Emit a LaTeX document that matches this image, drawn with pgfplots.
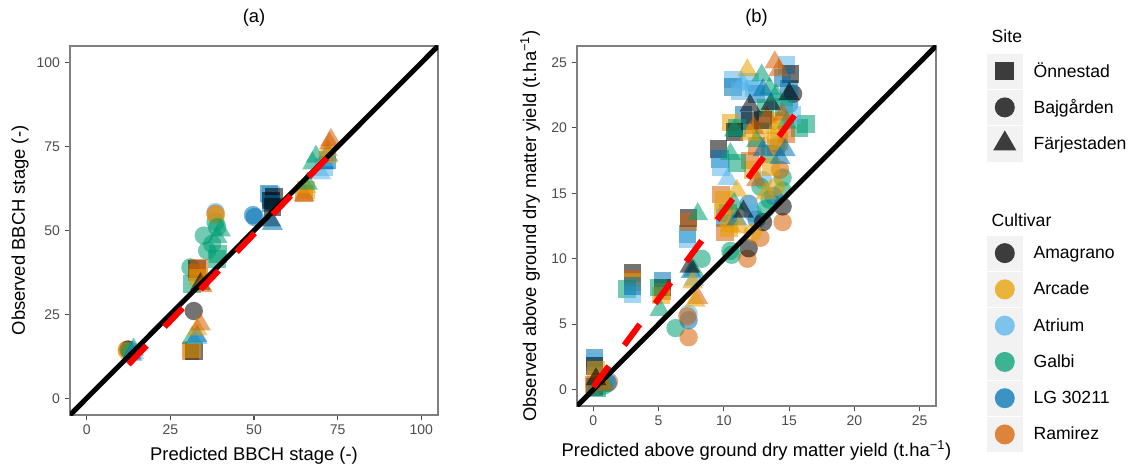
\documentclass[border=0pt]{standalone}
\usepackage{fontspec}
\setmainfont{Liberation Sans}
\usepackage{pgfplots}
\pgfplotsset{compat=1.18}

\definecolor{cAm}{HTML}{000000}
\definecolor{cAr}{HTML}{E69F00}
\definecolor{cAt}{HTML}{56B4E9}
\definecolor{cGa}{HTML}{009E73}
\definecolor{cLG}{HTML}{0072B2}
\definecolor{cRa}{HTML}{D55E00}
\definecolor{fitred}{HTML}{FF0000}
\definecolor{keybg}{HTML}{F2F2F2}

\pgfplotsset{
  panel/.style={
    scale only axis, anchor=south west, clip marker paths=true,
    tick align=outside, xtick pos=lower, ytick pos=left,
    major tick length=4pt,
    tick style={black!70, line width=0.8pt},
    axis line style={black!50, line width=0.8pt},
    tick label style={font=\fontsize{10.5}{12}\selectfont, text=black!70},
    /pgf/number format/assume math mode=true,
    label style={font=\fontsize{13.8}{16}\selectfont},
    title style={font=\fontsize{13.8}{16}\selectfont, anchor=base},
    xlabel style={anchor=base}, ylabel style={anchor=base},
  },
  pts/.style={only marks, scatter, scatter src=explicit symbolic,
    scatter/classes={Am={fill=cAm},Ar={fill=cAr},At={fill=cAt},
                     Ga={fill=cGa},LG={fill=cLG},Ra={fill=cRa}},
    mark options={draw opacity=0, fill opacity=0.55}},
  sq/.style={pts, mark=square*, mark size=6.6pt},
  ci/.style={pts, mark=*, mark size=6.9pt},
  tr/.style={pts, mark=triangle*, mark size=9pt},
  oneone/.style={black, line width=3.75pt},
  fit/.style={fitred, line width=4.5pt, dash pattern=on 19.5pt off 19.5pt},
  legbox/.style={hide axis, scale only axis, at={(0pt,0pt)}, anchor=south west,
    width=852.75pt, height=348pt, xmin=0, xmax=1, ymin=0, ymax=1,
    legend cell align=left,
    legend image code/.code={
      \path (0pt,-13.4pt) (26.25pt,13.4pt);
      \fill[keybg] (0pt,-12.9pt) rectangle (26.25pt,12.9pt);
      \draw[##1] plot coordinates {(13.125pt,0pt)};},
  },
  legst/.style={draw=none, fill=none, inner sep=0pt, outer sep=0pt,
    row sep=0pt, column sep=8.25pt, anchor=north west,
    font=\fontsize{13.2}{15}\selectfont, nodes={inner sep=0pt}},
  key/.style={mark options={draw opacity=0, fill=#1, fill opacity=0.75}},
}

\begin{document}
\begin{tikzpicture}
\useasboundingbox (0pt,0pt) rectangle (852.75pt,348pt);

% ---------------- (a) phenology ----------------
\begin{axis}[panel, at={(52.5pt,36.75pt)}, width=276pt, height=276.75pt,
  xmin=-5, xmax=105, ymin=-5, ymax=105,
  xtick={0,25,50,75,100}, ytick={0,25,50,75,100},
  title={(a)}, title style={at={(axis description cs:0.5,1.0407)}},
  xlabel={Predicted BBCH stage (-)},
  xlabel style={at={(axis description cs:0.5,-0.1220)}},
  ylabel={Observed BBCH stage (-)},
  ylabel style={at={(axis description cs:-0.1223,0.5)}}]
\addplot[ci] table[meta=c] {
x y c
12 14.5 Ra
12.5 14.5 Am
12 14 Ar
13 14 Ga
32 26 Am
31 39 Ga
35 48.5 Ga
36 44 Ga
37.5 46 Ga
38.5 52.5 Ga
38.5 55.5 At
38.5 55 Ra
38.6 54.5 Ar
39 51 Ga
49.7 54.6 LG
50.2 54 LG
55 58.5 Am
};
\addplot[sq] table[meta=c] {
x y c
31 14 Ra
32 14 Am
31.5 14.5 Ar
31.5 34 Ga
33 38.5 Am
33 37.5 Ra
33.5 39 Ra
33.2 36 Ar
39 41.5 Ga
39.2 43 Ga
55 60.5 At
54.5 61 LG
55 59 Am
56 60 Am
55 58 LG
55.5 57 Am
65 61 Ra
65.5 62 Ar
71 69 At
72 71 LG
};
\addplot[tr] table[meta=c] {
x y c
14 14.5 Ga
14 13.5 At
13.5 13 LG
31.5 18 Ga
33 18 At
33 18.5 LG
33 20.5 Ar
34 22 Ra
34 34 Am
34.5 33.5 Ra
39 48 Ga
40 50 Ga
55 53 Am
55.5 52 LG
65 60.5 Ra
65.5 63 Ar
66 64 Ga
67.5 70 Ga
68.5 72 Ga
70 67 At
71 70 LG
71 71 At
72 72.5 LG
72 72 Ar
72 74 Ar
72.5 76 Ra
73 77 Ra
};
\addplot[oneone] coordinates {(-5,-5) (105,105)};
\addplot[fit] coordinates {(12.5,10.1) (72,71.8)};
\end{axis}

% ---------------- (b) dry matter ----------------
\begin{axis}[panel, at={(432.75pt,43.5pt)}, width=269.25pt, height=270pt,
  xmin=-1.25, xmax=26.25, ymin=-1.25, ymax=26.25,
  xtick={0,5,10,15,20,25}, ytick={0,5,10,15,20,25},
  title={(b)}, title style={at={(axis description cs:0.5,1.0417)}},
  xlabel={Predicted above ground dry matter yield (t.ha\textsuperscript{−1})},
  xlabel style={at={(axis description cs:0.5,-0.1389)}},
  ylabel={Observed above ground dry matter yield (t.ha\textsuperscript{−1})},
  ylabel style={at={(axis description cs:-0.1142,0.5)}}]
\addplot[ci] table[meta=c] {
x y c
1.2 0.6 Ra
1.0 0.8 At
1.1 0.5 LG
0.8 0.3 Ga
6.3 4.7 Ga
7.3 4.0 Ra
7.3 5.3 LG
7.3 5.8 At
7.2 5.6 Ra
8.3 10.0 Ga
10.5 10.6 Ga
10.6 10.3 Ga
11.8 10.0 Ra
11.9 10.8 Am
12.8 11.6 Ra
11.9 14.2 LG
12.2 13.5 At
12.5 13.0 LG
14.5 12.8 Ra
13.0 12.8 Am
14.5 14.0 Am
14.5 15.2 Ga
14.5 16.2 Ga
13.0 16.0 At
13.5 14.5 Ga
13.8 14.8 LG
12.8 15.5 Ga
14.0 15.5 Ar
14.3 16.8 Ra
12.2 12.0 Ar
13.2 13.8 Ga
15.3 22.6 Am
15.0 21.8 LG
14.2 18.7 At
};
\addplot[sq] table[meta=c] {
x y c
0.1 2.4 LG
0.1 2.1 At
0.1 1.8 Am
0.2 1.5 Ar
0.1 0.2 Am
0.0 0.4 Ra
0.3 0.1 Ga
0.5 0.6 Ra
3.0 8.9 Am
3.0 8.5 Ra
3.0 8.2 Ar
2.6 7.7 Ga
3.0 7.3 At
3.0 7.9 LG
5.3 8.3 LG
5.3 7.8 Am
5.3 7.5 Ra
5.2 7.2 Ar
5.0 7.8 Ga
7.2 11.9 LG
7.2 11.5 At
7.3 13.1 Am
7.3 12.8 Ra
9.6 18.4 Am
9.7 17.6 LG
9.8 17.0 At
9.8 14.9 Ra
10.0 14.5 Ar
10.3 13.5 Ga
10.1 13.1 LG
10.1 12.0 Ra
10.4 12.3 Ar
9.9 13.6 Ar
10.7 23.7 At
10.7 23.1 LG
11.2 22.8 At
11.5 21.0 LG
12.0 23.5 At
12.5 22.6 LG
12.3 23.0 At
12.0 20.5 Am
10.5 20.4 Ar
11.0 20.0 Ga
10.8 19.7 Am
12.8 19.8 Ar
13.2 21.5 Ga
13.5 18.0 Ga
14.0 18.5 Ra
14.2 20.5 Ar
15.0 23.0 LG
15.8 20.0 Ga
16.3 20.3 Ga
14.8 24.8 At
15.1 24.1 Am
14.5 23.8 LG
14.2 19.0 Ar
12.0 17.5 Ra
12.2 16.8 Ar
11.0 17.3 Ga
13.8 22.0 At
12.5 18.6 Ra
13.0 20.6 Am
14.6 21.6 Ga
14.8 19.5 Ra
13.6 17.0 Ar
15.2 21.0 At
};
\addplot[tr] table[meta=c] {
x y c
0.6 0.3 Ga
0.8 0.4 Ra
0.2 0.8 Am
5.1 6.1 Ga
8.0 7.0 Ra
7.8 6.8 Ar
7.7 9.1 Ga
7.5 9.0 LG
7.7 8.4 At
7.6 8.2 Ar
7.4 9.4 Am
8.0 13.4 Ga
10.3 16.1 At
10.5 12.5 Ar
10.5 13.8 Ar
11.0 13.0 LG
11.2 12.4 Ar
11.0 15.2 Ar
10.8 14.2 Ga
11.5 13.6 Am
12.5 16.0 Ra
10.5 18.0 Ga
10.8 19.8 Ga
11.8 24.4 Ar
14.2 24.4 Ra
13.9 25.0 Ra
12.9 24.0 Ga
11.4 23.4 At
12.0 21.7 Am
12.3 20.0 Ra
13.3 20.8 Ra
13.6 21.8 Am
13.8 19.3 Ar
14.3 17.7 LG
14.7 18.3 LG
14.8 20.4 Ga
13.5 23.0 Ga
14.0 22.5 Ga
12.5 19.0 Ga
13.0 18.3 LG
14.0 20.0 Ar
15.0 22.6 Am
13.2 15.0 Ar
12.0 19.5 Ar
14.5 21.0 Ra
13.0 22.9 LG
};
\addplot[oneone] coordinates {(-1.25,-1.25) (26.25,26.25)};
\addplot[fit] coordinates {(0,0.2) (15.6,21.2)};
\end{axis}

% ---------------- legends ----------------
\node[anchor=base west, font=\fontsize{13.2}{15}\selectfont] at (740.25pt,315.75pt) {Site};
\node[anchor=base west, font=\fontsize{13.2}{15}\selectfont] at (740.25pt,177.75pt) {Cultivar};

\begin{axis}[legbox, legend style={legst, at={(axis description cs:0.86808,0.88578)}}]
\addlegendimage{mark=square*, mark size=7pt, key=black}
\addlegendentry{Önnestad}
\addlegendimage{mark=*, mark size=7.5pt, key=black}
\addlegendentry{Bajgården}
\addlegendimage{mark=triangle*, mark size=10pt, key=black}
\addlegendentry{Färjestaden}
\end{axis}

\begin{axis}[legbox, legend style={legst, at={(axis description cs:0.86808,0.49353)}}]
\addlegendimage{mark=*, mark size=7.5pt, key=cAm}
\addlegendentry{Amagrano}
\addlegendimage{mark=*, mark size=7.5pt, key=cAr}
\addlegendentry{Arcade}
\addlegendimage{mark=*, mark size=7.5pt, key=cAt}
\addlegendentry{Atrium}
\addlegendimage{mark=*, mark size=7.5pt, key=cGa}
\addlegendentry{Galbi}
\addlegendimage{mark=*, mark size=7.5pt, key=cLG}
\addlegendentry{LG 30211}
\addlegendimage{mark=*, mark size=7.5pt, key=cRa}
\addlegendentry{Ramirez}
\end{axis}
\end{tikzpicture}
\end{document}
